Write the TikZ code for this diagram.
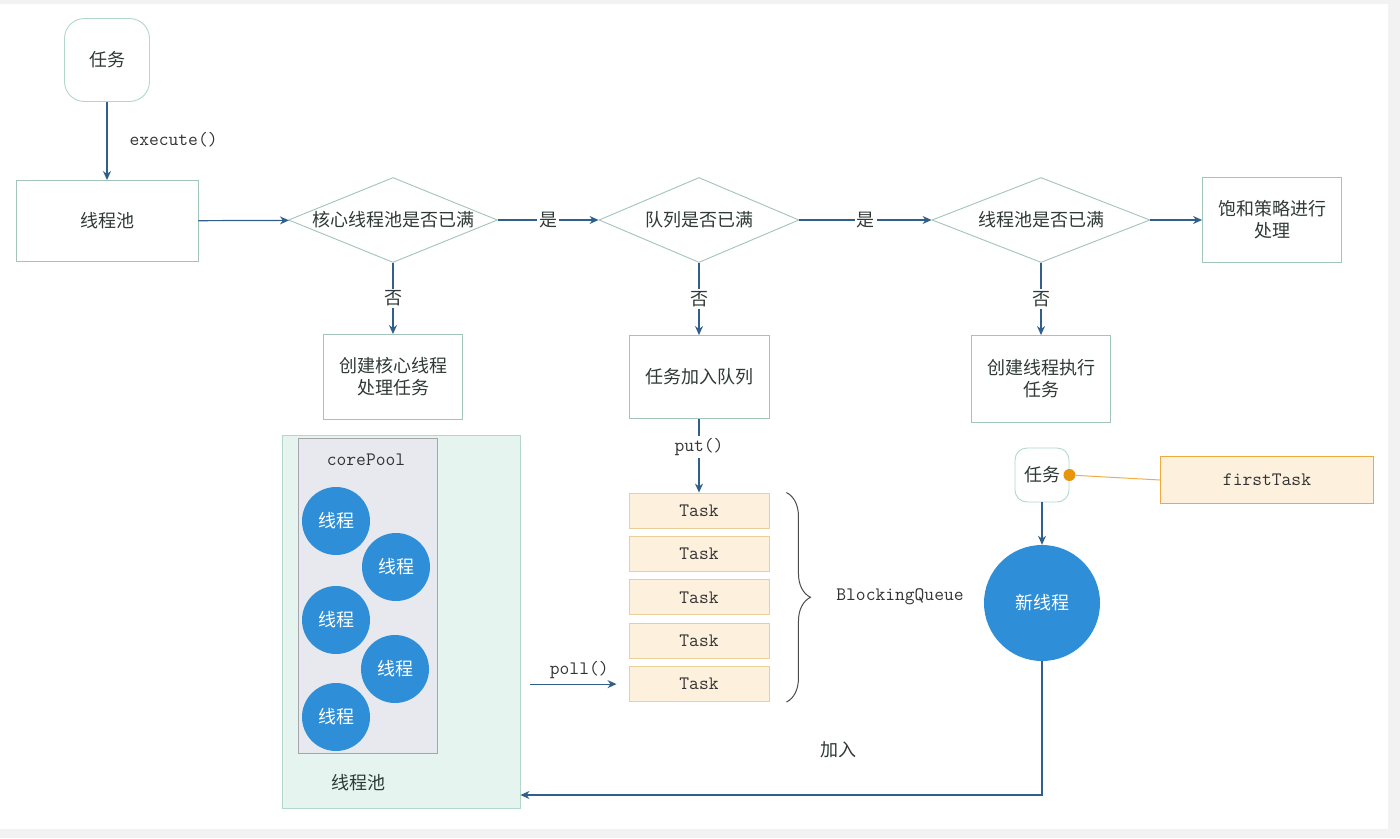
\documentclass[tikz,border=0pt]{standalone}
\usepackage{fontspec}
\setmainfont{Noto Sans CJK SC}
\usepackage{tikz}
\usetikzlibrary{positioning,arrows.meta,shapes.geometric,decorations.pathreplacing}
\definecolor{tpline}{HTML}{A3C4BA}
\definecolor{tparrow}{HTML}{2F5F8A}
\definecolor{tpblue}{HTML}{2E8FD8}
\definecolor{tppeach}{HTML}{FDF1DE}
\definecolor{tppeachln}{HTML}{EBCF9A}
\definecolor{tpmint}{HTML}{E5F4EE}
\definecolor{tpmintln}{HTML}{B2D8CB}
\definecolor{tpgray}{HTML}{E8E9EE}
\definecolor{tpgrayln}{HTML}{A6A6AA}
\definecolor{tporange}{HTML}{E8950E}
\definecolor{tptext}{HTML}{2F3A36}
\definecolor{tpframe}{HTML}{F2F2F2}
\newcommand\dlabel[1]{\makebox[0pt]{#1}}

\begin{document}
\begin{tikzpicture}[x=1pt, y=-1pt,
  font=\fontsize{18}{22}\selectfont, text=tptext,
  box/.style={draw=tpline, fill=white, align=center, line width=0.9pt, inner sep=0pt},
  dia/.style={draw=tpline, fill=white, diamond, inner sep=0pt, line width=0.9pt, minimum height=85pt},
  taskbox/.style={draw=tppeachln, fill=tppeach, line width=0.9pt, minimum width=140pt, minimum height=35pt, inner sep=0pt, font=\fontsize{19}{22}\ttfamily, text=black!80},
  thread/.style={circle, fill=tpblue, text=white, minimum size=68pt, inner sep=0pt},
  mono/.style={font=\fontsize{19}{22}\ttfamily, text=black!80},
  flow/.style={-{Stealth[length=9pt, width=8pt]}, line width=1.2pt, draw=tparrow},
  lbl/.style={fill=white, inner sep=2pt}
]
\useasboundingbox (0,0) rectangle (1400,838);
\fill[tpframe] (0,0) rectangle (1400,838);
\fill[white] (0,4) rectangle (1388,829);
% ================= top row: the three checks =================
\node[box, rounded corners=20pt, minimum width=85pt, minimum height=83pt, draw=tpmintln] (task) at (107,60) {任务};
\node[box, minimum width=182pt, minimum height=81pt] (pool) at (107,221) {线程池};
\node[dia, minimum width=209pt] (d1) at (393,220) {\dlabel{核心线程池是否已满}};
\node[dia, minimum width=200pt] (d2) at (699,220) {\dlabel{队列是否已满}};
\node[dia, minimum width=218pt] (d3) at (1041,220) {\dlabel{线程池是否已满}};
\node[box, minimum width=139pt, minimum height=85pt] (sat) at (1272,220) {饱和策略进行\\处理};
% ================= second row: what happens on "no" =================
\node[box, minimum width=139pt, minimum height=85pt] (core) at (393,377) {创建核心线程\\处理任务};
\node[box, minimum width=140pt, minimum height=83pt] (enq) at (699,377) {任务加入队列};
\node[box, minimum width=139pt, minimum height=87pt] (newt) at (1041,379) {创建线程执行\\任务};
% ================= the pool with its core threads =================
\node[draw=tpmintln, fill=tpmint, line width=0.9pt, minimum width=238pt, minimum height=373pt, inner sep=0pt] (mint) at (401,621.5) {};
\node[draw=tpgrayln, fill=tpgray, line width=0.7pt, minimum width=139pt, minimum height=315pt, inner sep=0pt] (cp) at (367.5,595.5) {};
\node[mono] (cpl) at (366,460) {corePool};
\foreach \i/\px/\py in {1/336/521, 2/396/567, 3/336/620, 4/395/669, 5/336/717}
  \node[thread] (th\i) at (\px,\py) {线程};
\node (mintl) at (358,783) {线程池};
% ================= the blocking queue =================
\foreach \i in {1,...,5}
  \node[taskbox] (t\i) at (699,{510.5+43.4*(\i-1)}) {Task};
\draw[line width=1pt, draw=black!70, decorate, decoration={brace, amplitude=24pt, aspect=0.5}] ([xshift=17pt]t1.north east) -- ([xshift=17pt]t5.south east);
\node[mono] (bq) at (900,597) {BlockingQueue};
% ================= the new thread with its first task =================
\node[box, rounded corners=12pt, minimum width=54pt, minimum height=54pt, draw=tpmintln] (tk) at (1042,475) {任务};
\node[draw=tporange!80, fill=tppeach, line width=1pt, minimum width=213pt, minimum height=47pt, mono] (ft) at (1267,480) {firstTask};
\node[circle, fill=tporange, inner sep=0pt, minimum size=12pt] (dot) at (tk.east) {};
\draw[tporange!75, line width=1pt] (dot) -- (ft.west);
\node[thread, minimum size=116pt] (nt) at (1042,603) {新线程};
\coordinate (ret) at (1042,795);
\coordinate (pollsrc) at (530,686);
% ================= connectors =================
\draw[flow] (task) -- (pool);
\node[mono, anchor=west] (exe) at (126,140) {execute()};
\draw[flow] (pool) -- (d1);
\draw[flow] (d1) -- node[lbl]{是} (d2);
\draw[flow] (d2) -- node[lbl]{是} (d3);
\draw[flow] (d3) -- (sat);
\draw[flow] (d1) -- node[lbl]{否} (core);
\draw[flow] (d2) -- node[lbl]{否} (enq);
\draw[flow] (d3) -- node[lbl]{否} (newt);
\draw[flow] (enq) -- node[lbl, mono, pos=0.38]{put()} (t1);
\draw[flow, shorten >=12pt] (pollsrc |- t5.west) -- node[mono, above=1pt]{poll()} (t5.west);
\draw[flow] (tk) -- (nt);
\draw[flow] (nt.south) -- (ret) -- (ret -| mint.east);
\node (join) at (838,750) {加入};
\end{tikzpicture}
\end{document}
